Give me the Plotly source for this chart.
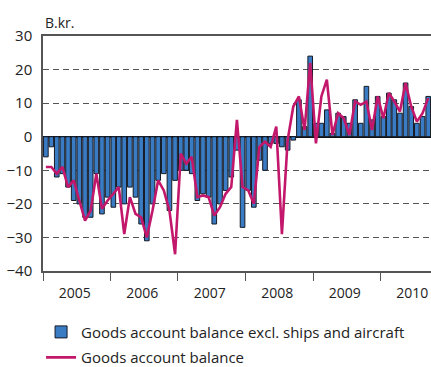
import pandas as pd
import plotly.graph_objects as go

months = pd.date_range("2005-01-01", periods=69, freq="MS")

bars_excl = [
    -6, -3, -12, -11, -15, -19, -20, -24, -24, -11, -23, -18,
    -21, -15, -20, -15, -18, -26, -31, -20, -13, -11, -22, -13,
    -10, -10, -11, -19, -17, -18, -26, -20, -16, -12, -4, -27,
    -16, -21, -7, -10, -2, -2, -3, -4, -1, 11, 3, 24,
    4, 4, 8, 1, 7, 6, 4, 11, 4, 15, 5, 12,
    6, 13, 11, 7, 16, 9, 4, 6, 12,
]

line_total = [
    -9, -9, -11, -9, -15, -13, -19, -25, -22, -11, -21.5, -19,
    -17, -15, -29, -18, -23, -24, -30, -22, -13, -16, -22, -35,
    -5, -8, -6, -18, -17.5, -18, -23.5, -21, -17, -15, 5, -15,
    -16, -20, -3, -1.5, -3, 3, -29, -1, 9, 12, 2, 22,
    -2, 12, 17, 0.5, 7, 5.5, 0.5, 10.5, 9.5, 10.5, 2, 12,
    5.5, 13, 10.5, 7.5, 16, 9, 4.5, 7, 11.5,
]

y_ticks = [30, 20, 10, 0, -10, -20, -30, -40]

FONT = "Open Sans"
TXT = "#222222"

fig = go.Figure()
fig.add_trace(go.Bar(
    x=months, y=bars_excl,
    xperiod="M1", xperiodalignment="middle",
    marker=dict(color="#3a7cc4", line=dict(color="#151a24", width=1)),
    name="Goods account balance excl. ships and aircraft",
    legendgroup="a",
))
fig.add_trace(go.Scatter(
    x=months, y=line_total,
    xperiod="M1", xperiodalignment="middle",
    mode="lines",
    line=dict(color="#c2176b", width=2.6),
    name="Goods account balance",
    legendgroup="b",
))

fig.update_layout(
    width=431, height=367,
    margin=dict(l=43, r=0, t=36, b=96, autoexpand=False),
    paper_bgcolor="white", plot_bgcolor="white",
    bargap=0.15,
    font=dict(family=FONT, size=14, color=TXT),
    showlegend=True,
    legend=dict(
        x=-0.005, xanchor="left", y=-0.19, yanchor="top",
        font=dict(family=FONT, size=15, color=TXT),
        tracegroupgap=3, bgcolor="rgba(0,0,0,0)",
    ),
    annotations=[dict(
        text="B.kr.", xref="paper", yref="paper", x=0, y=1,
        xanchor="left", yanchor="bottom", yshift=2, showarrow=False,
        font=dict(family=FONT, size=14, color=TXT),
    )],
)

fig.update_xaxes(
    type="date", automargin=False,
    range=["2005-01-01", "2010-10-01"],
    dtick="M12", tick0="2005-01-01",
    tickformat="%Y", ticklabelmode="period", ticklabelshift=-2,
    ticks="outside", ticklen=8, tickcolor="#555555", tickwidth=1,
    showline=True, linecolor="#555555", linewidth=1.5, mirror=True,
    showgrid=False, zeroline=False,
    tickfont=dict(family=FONT, size=14, color=TXT),
)
fig.update_yaxes(
    range=[-40, 30], automargin=False,
    tickvals=y_ticks,
    ticks="", ticklabelstandoff=6,
    showline=True, linecolor="#555555", linewidth=1.5,
    showgrid=True, gridcolor="#555555", gridwidth=1.2, griddash="6px,4px",
    zeroline=True, zerolinecolor="#111111", zerolinewidth=1.5,
    tickfont=dict(family=FONT, size=15, color=TXT),
)

fig.write_html(
    "out.html",
    config={"displayModeBar": False},
    post_script="document.body.style.margin='0';document.body.style.padding='0';",
)
